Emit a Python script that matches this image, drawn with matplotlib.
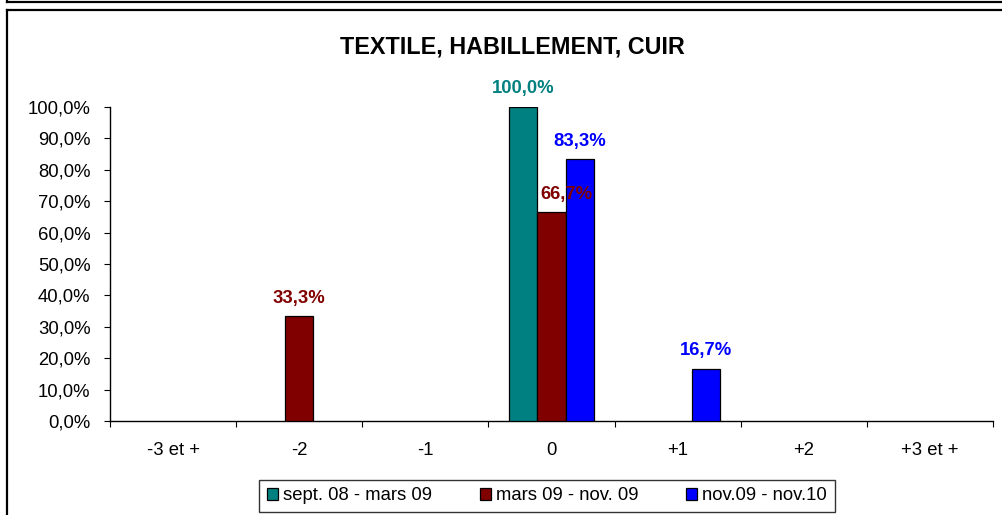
"""Textile, habillement, cuir: distribution bar chart over three periods."""
import matplotlib
matplotlib.use("Agg")
import matplotlib.pyplot as plt
import numpy as np
from matplotlib.lines import Line2D
from matplotlib.ticker import FuncFormatter, FixedLocator

plt.rcParams["font.family"] = ["Liberation Sans", "DejaVu Sans"]

CATEGORIES = ["-3 et +", "-2", "-1", "0", "+1", "+2", "+3 et +"]
SERIES = ["sept. 08 - mars 09", "mars 09 - nov. 09", "nov.09 - nov.10"]
SEPT08_MARS09 = [0.0, 0.0, 0.0, 100.0, 0.0, 0.0, 0.0]
MARS09_NOV09 = [0.0, 33.3, 0.0, 66.7, 0.0, 0.0, 0.0]
NOV09_NOV10 = [0.0, 0.0, 0.0, 83.3, 16.7, 0.0, 0.0]
COLORS = ["#008080", "#800000", "#0000FF"]

values = [SEPT08_MARS09, MARS09_NOV09, NOV09_NOV10]
FS = 13.3


def pct(v, _pos=None):
    return f"{v:.1f}".replace(".", ",") + "%"


fig = plt.figure(figsize=(10.03, 5.15), dpi=100)
ax = fig.add_axes([110 / 1003, 1 - 421 / 515, 883 / 1003, 314 / 515])

x = np.arange(len(CATEGORIES))
width = 1 / 4.5
for k, (name, vals, col) in enumerate(zip(SERIES, values, COLORS)):
    vals = np.asarray(vals)
    pos = x + (k - 1) * width
    keep = vals > 0  # Excel draws nothing for empty cells
    ax.bar(pos[keep], vals[keep], width, color=col, edgecolor="black",
           linewidth=0.9, label=name, zorder=3)
    for xi, v in zip(pos[keep], vals[keep]):
        # Excel nudged the 66,7% label to the right
        dx = 11 if (k == 1 and v == 66.7) else 0
        dy = 12 if (k == 1 and v == 66.7) else 13
        ax.annotate(pct(v), (xi, v), xytext=(dx, dy), textcoords="offset points",
                    ha="center", va="center", color=col, fontsize=FS,
                    fontweight="bold", zorder=4)

ax.set_xlim(-0.5, len(CATEGORIES) - 0.5)
ax.set_ylim(0, 100)
ax.yaxis.set_major_locator(FixedLocator(np.arange(0, 101, 10)))
ax.yaxis.set_major_formatter(FuncFormatter(pct))

ax.set_xticks(x)
ax.set_xticklabels(CATEGORIES)
ax.set_xticks(np.arange(-0.5, len(CATEGORIES)), minor=True)
ax.tick_params(axis="x", which="major", length=0, pad=15, labelsize=FS)
ax.tick_params(axis="x", which="minor", length=4, width=0.8, direction="out")
ax.tick_params(axis="y", length=4, width=0.8, pad=10, labelsize=FS)

for side in ("top", "right"):
    ax.spines[side].set_visible(False)
for side in ("left", "bottom"):
    ax.spines[side].set_linewidth(1.0)

fig.text(0.511, 1 - 47 / 515, "TEXTILE, HABILLEMENT, CUIR", ha="center",
         va="center", fontsize=16.8, fontweight="bold")

leg = fig.legend(loc="center", bbox_to_anchor=(547 / 1003, 1 - 496 / 515), ncol=3,
                 fontsize=FS, frameon=True, fancybox=False, handlelength=0.6,
                 handleheight=0.6, handletextpad=0.3, columnspacing=2.55,
                 borderpad=0.4, borderaxespad=0)
leg.get_frame().set_edgecolor("black")
leg.get_frame().set_linewidth(1.0)

# outer chart frames
fw = 1.6
fig.add_artist(Line2D([7 / 1003, 1], [1 - 2 / 515, 1 - 2 / 515], color="black", lw=fw))
fig.add_artist(Line2D([7 / 1003, 7 / 1003], [1, 1 - 2 / 515], color="black", lw=fw))
fig.add_artist(Line2D([7 / 1003, 1], [1 - 9.5 / 515, 1 - 9.5 / 515], color="black", lw=fw))
fig.add_artist(Line2D([7 / 1003, 7 / 1003], [1 - 9.5 / 515, 0], color="black", lw=fw))

fig.savefig("out.png", dpi=100)
